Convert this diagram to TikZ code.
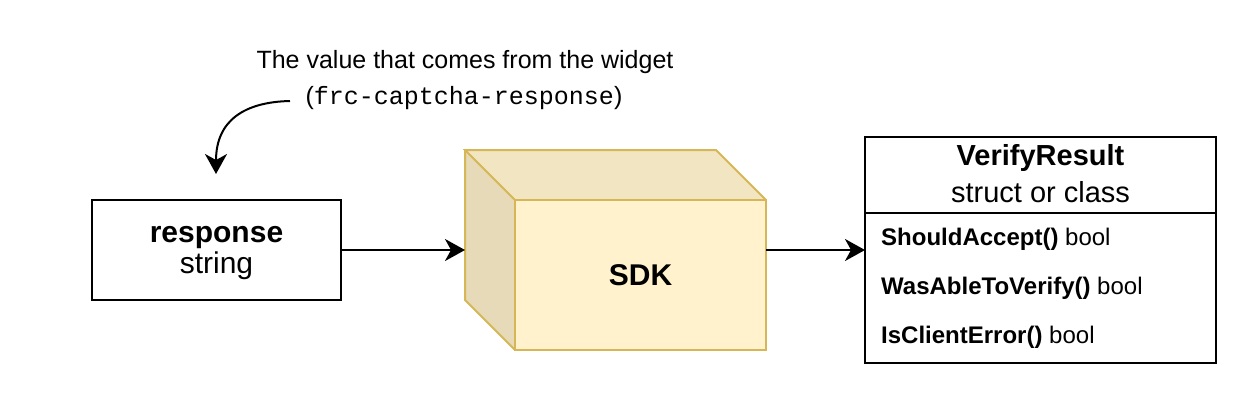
\documentclass[tikz,border=0pt]{standalone}
\usepackage{fontspec}
\setmainfont{Liberation Sans}
\setmonofont{Liberation Mono}
\usetikzlibrary{arrows.meta}
\definecolor{sdkfill}{HTML}{FFF2CC}
\definecolor{sdkstroke}{HTML}{D6B656}
\definecolor{sdktop}{HTML}{F2E6C2}
\definecolor{sdkside}{HTML}{E6DAB8}
\tikzset{
  boxshape/.style={draw=black, line width=2pt, fill=white, outer sep=0pt, inner sep=0pt},
  label30/.style={inner sep=0pt, font=\fontsize{30}{36}\selectfont},
  label29/.style={inner sep=0pt, font=\fontsize{29}{35}\selectfont},
  label25/.style={inner sep=0pt, font=\fontsize{25}{30}\selectfont},
  label24/.style={inner sep=0pt, font=\fontsize{24}{29}\selectfont},
  conn/.style={line width=2pt, -{Stealth[length=20pt,width=22pt,inset=6pt]}},
  cubeface/.style={draw=sdkstroke, line width=2pt, line join=miter}
}
\begin{document}
\begin{tikzpicture}[x=1pt,y=-1pt]
\useasboundingbox (0,0) rectangle (1258,405);
% annotation
\node[label25, anchor=base] (ann1) at (465,68) {The value that comes from the widget};
\node[label25, anchor=base] (ann2) at (464,104) {(\texttt{frc-captcha-response})};
\coordinate (annstart) at (290,101);
\coordinate (respin) at (216,174);
% response box
\node[boxshape, minimum width=249, minimum height=100] (resp) at (216.5,250) {};
\node[label30, anchor=base] (resptitle) at (216.5,242) {\textbf{response}};
\node[label30, anchor=base] (resptype) at (216.5,273) {string};
% cube
\fill[sdktop] (465,150) -- (716,150) -- (766,200) -- (515,200) -- cycle;
\fill[sdkside] (465,150) -- (515,200) -- (515,350) -- (465,300) -- cycle;
\node[cubeface, fill=sdkfill, minimum width=251, minimum height=150, outer sep=0pt, inner sep=0pt,
      font=\fontsize{30}{36}\selectfont\bfseries] (sdk) at (640.5,275) {SDK};
\draw[cubeface] (515,200) -- (465,150) -- (716,150) -- (766,200);
\draw[cubeface] (465,150) -- (465,300) -- (515,350);
\coordinate (sdkleft) at (465,250);
% VerifyResult
\node[boxshape, minimum width=351, minimum height=226] (vr) at (1040.5,250) {};
\draw[line width=2pt] (vr.west |- 0,213) -- (vr.east |- 0,213);
\node[label29, anchor=base] (vrtitle) at (1040.5,165) {\textbf{VerifyResult}};
\node[label29, anchor=base] (vrkind) at (1040.5,202) {struct or class};
\node[label24, anchor=base west] (vrrow1) at (881,245) {\textbf{ShouldAccept()} bool};
\node[label24, anchor=base west] (vrrow2) at (881,294) {\textbf{WasAbleToVerify()} bool};
\node[label24, anchor=base west] (vrrow3) at (881,343) {\textbf{IsClientError()} bool};
% connectors
\draw[conn] (annstart) .. controls (245,102) and (216,120) .. (respin);
\draw[conn] (resp.east) -- (sdkleft);
\draw[conn] (sdk.east |- vr.west) -- (vr.west);
\end{tikzpicture}
\end{document}
